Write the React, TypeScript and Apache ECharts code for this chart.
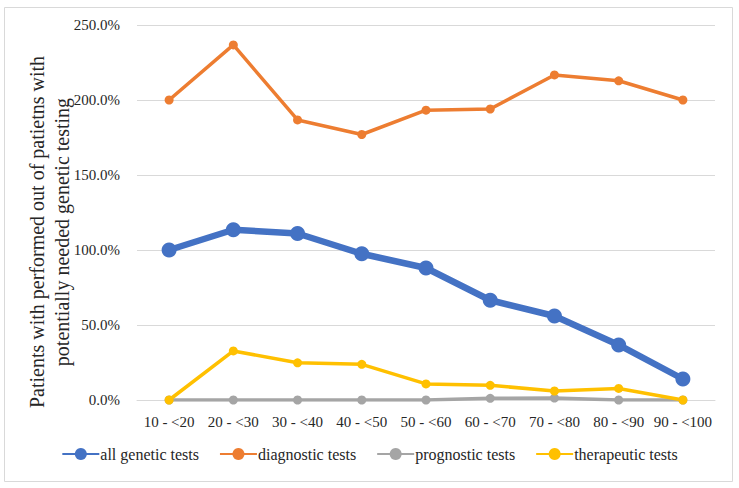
import React, { useEffect, useRef } from "react";
import * as echarts from "echarts";

const categories = ["10 - <20", "20 - <30", "30 - <40", "40 - <50", "50 - <60", "60 - <70", "70 - <80", "80 - <90", "90 - <100"];
const allGenetic = [100, 113.5, 111, 97.5, 88, 66.5, 56, 36.7, 14];
const diagnostic = [200, 236.7, 186.7, 177, 193.2, 194, 216.7, 212.8, 200];
const prognostic = [0, 0, 0, 0, 0, 1.1, 1.3, 0, 0];
const therapeutic = [0, 32.7, 24.8, 23.8, 10.7, 9.8, 6, 7.7, 0];
const yTicks = { min: 0, max: 250, interval: 50 };
const yTitle = "Patients with performed out of patietns with\npotentially needed genetic testing";

const FONT = "Liberation Serif";
const TXT = "#262626";

export default function App() {
  const ref = useRef<HTMLDivElement>(null);
  useEffect(() => {
    document.body.style.margin = "0";
    const chart = echarts.init(ref.current!, null, { renderer: "svg" });
    const mk = (name: string, data: number[], color: string, w: number, s: number) => ({
      name,
      type: "line",
      data,
      symbol: "circle",
      symbolSize: s,
      itemStyle: { color },
      lineStyle: { color, width: w },
    });
    chart.setOption({
      animation: false,
      backgroundColor: "#ffffff",
      textStyle: { fontFamily: FONT },
      grid: { left: 137, right: 24, top: 25, bottom: 88 },
      graphic: [
        {
          type: "rect",
          shape: { x: 4.5, y: 7.5, width: 728, height: 474 },
          style: { fill: "none", stroke: "#D9D9D9", lineWidth: 1 },
          silent: true,
        },
        {
          type: "text",
          x: 49.5,
          y: 232,
          rotation: Math.PI / 2,
          style: {
            text: yTitle,
            fontFamily: FONT,
            fontSize: 20,
            fill: TXT,
            align: "center",
            verticalAlign: "middle",
            lineHeight: 25,
          },
        },
      ],
      legend: {
        bottom: 21,
        left: "center",
        itemWidth: 37,
        itemHeight: 15,
        itemGap: 20,
        textStyle: { fontFamily: FONT, fontSize: 16, color: TXT, padding: [0, 0, 0, -4] },
        data: ["all genetic tests", "diagnostic tests", "prognostic tests", "therapeutic tests"],
      },
      xAxis: {
        type: "category",
        data: categories,
        boundaryGap: true,
        axisLine: { lineStyle: { color: "#D9D9D9", width: 1 } },
        axisTick: { show: false },
        axisLabel: { fontFamily: FONT, fontSize: 15, color: TXT, margin: 14, interval: 0 },
      },
      yAxis: {
        type: "value",
        min: yTicks.min,
        max: yTicks.max,
        interval: yTicks.interval,
        axisLine: { show: false },
        axisTick: { show: false },
        splitLine: { lineStyle: { color: "#D9D9D9", width: 1 } },
        axisLabel: {
          fontFamily: FONT,
          fontSize: 15,
          color: TXT,
          margin: 17,
          formatter: (v: number) => v.toFixed(1) + "%",
        },
      },
      series: [
        mk("all genetic tests", allGenetic, "#4472C4", 6.5, 15),
        mk("diagnostic tests", diagnostic, "#ED7D31", 3.5, 9),
        mk("prognostic tests", prognostic, "#A5A5A5", 3.5, 9),
        mk("therapeutic tests", therapeutic, "#FFC000", 3.5, 9),
      ],
    });
    return () => chart.dispose();
  }, []);
  return <div ref={ref} style={{ width: 739, height: 488, position: "absolute", left: 0, top: 0 }} />;
}
